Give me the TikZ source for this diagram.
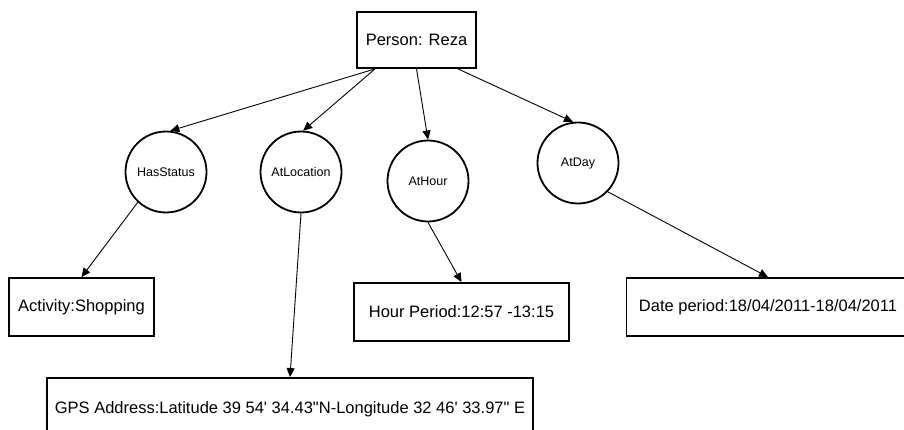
\documentclass[tikz,border=0pt]{standalone}
\usepackage{fontspec}
\setmainfont{Liberation Sans}
\usetikzlibrary{arrows.meta}

\begin{document}
\begin{tikzpicture}[x=1pt,y=-1pt,
    entity/.style={draw, line width=1.8pt, minimum height=58pt, inner sep=0pt, font=\fontsize{16.5}{19}\selectfont},
    relation/.style={draw, circle, line width=1.8pt, minimum size=81pt, inner sep=0pt, font=\fontsize{12.5}{15}\selectfont},
    link/.style={-{Triangle[length=9pt,width=8pt]}, line width=0.9pt}]
    \clip (0,0) rectangle (904,430);

    \draw (416.5,40) node[entity, minimum width=119pt, minimum height=56pt] (person) {Person: Reza};

      \draw (166,172) node[relation] (hasstatus) {HasStatus};
      \draw (301,172) node[relation] (atlocation) {AtLocation};
      \draw (428,181) node[relation] (athour) {AtHour};
      \draw (578,163) node[relation] (atday) {AtDay};

   \draw (81.5,307) node[entity, minimum width=145pt] (activity) {Activity:Shopping};
   \draw (461.5,312) node[entity, minimum width=215pt] (hour) {Hour Period:12:57 -13:15};
   \draw (768,307) node[entity, minimum width=283pt] (date) {Date period:18/04/2011-18/04/2011};
   \draw (290,409) node[entity, minimum width=486pt, minimum height=62pt] (gps) {GPS Address:Latitude 39 54\textquotesingle{} 34.43\textquotedbl{}N-Longitude 32 46\textquotesingle{} 33.97\textquotedbl{} E};

     \path[link] ([xshift=-41.5pt]person.south) edge (hasstatus.84);
     \path[link] ([xshift=-41.5pt]person.south) edge (atlocation.87);
     \path[link] (person.south) edge (athour.north);
     \path[link] ([xshift=41.5pt]person.south) edge (atday.97);

     \path[link] (hasstatus.227) edge (activity.north);
     \path[link] (atlocation.south) edge (gps.north);
     \path[link] (athour.south) edge (hour.north);
     \path[link] (atday.316) edge (date.north);

\end{tikzpicture}
\end{document}
